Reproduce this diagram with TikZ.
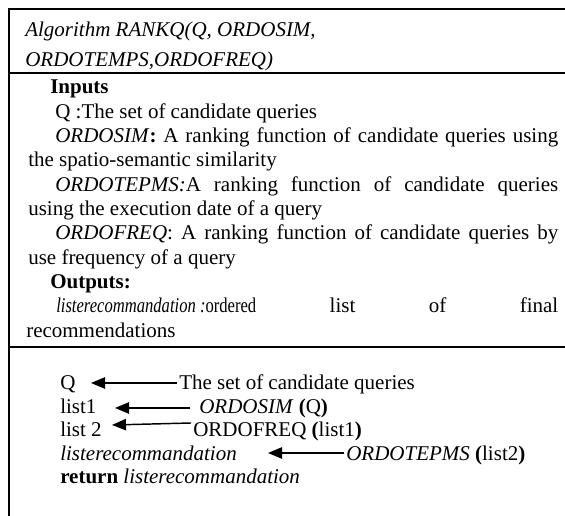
\documentclass[tikz,border=0pt]{standalone}
\usepackage{graphicx}
\usepackage{fontspec}
\setmainfont{Liberation Serif}
\usetikzlibrary{arrows.meta}
\begin{document}
\begin{tikzpicture}[x=0.75pt,y=-0.75pt,
  txt/.style={anchor=base west,inner sep=0pt,font=\fontsize{15.75}{18}\selectfont},
  rule/.style={line width=1.5pt},
  arr/.style={line width=1.1pt,-{Triangle[length=10.5pt,width=8.5pt]}}]
\useasboundingbox (0,0) rectangle (565,516);
% frame
\coordinate (tl) at (9,9);
\coordinate (tr) at (566,9);
\coordinate (bl) at (9,517);
\coordinate (m1l) at (9,73);
\coordinate (m1r) at (566,73);
\coordinate (m2l) at (9,347);
\coordinate (m2r) at (566,347);
\draw[rule] (tr) -- (tl) -- (bl);
\draw[rule] (m1l) -- (m1r);
\draw[rule] (m2l) -- (m2r);
% header
\node[txt] (h1) at (25,37) {\textit{Algorithm RANKQ(Q, ORDOSIM,}};
\node[txt] (h2) at (25,67) {\textit{ORDOTEMPS,ORDOFREQ)}};
% inputs / outputs
\node[txt] (in) at (50,94) {\textbf{Inputs}};
\node[txt] (i1) at (55,118.3) {Q :The set of candidate queries};
\node[txt] (i2) at (55,142.6) {\makebox[377.25pt][s]{\textit{ORDOSIM}\textbf{:} A ranking function of candidate queries using}};
\node[txt] (i2b) at (28,167) {the spatio-semantic similarity};
\node[txt] (i3) at (55,191.3) {\makebox[377.25pt][s]{\textit{ORDOTEPMS:}A ranking function of candidate queries}};
\node[txt] (i3b) at (28,215.6) {using the execution date of a query};
\node[txt] (i4) at (55,240) {\makebox[377.25pt][s]{\textit{ORDOFREQ}: A ranking function of candidate queries by}};
\node[txt] (i4b) at (28,264.3) {use frequency of a query};
\node[txt] (out) at (50,288.6) {\textbf{Outputs:}};
\node[txt] (o1) at (56,313) {\makebox[376.5pt][s]{\resizebox{150pt}{\height}{\textit{listerecommandation :}ordered} list of final}};
\node[txt] (o1b) at (26,337.3) {recommendations};
% algorithm body
\node[txt] (q) at (60,390) {Q};
\node[txt] (qt) at (179,390) {The set of candidate queries};
\node[txt] (l1) at (60,413.5) {list1};
\node[txt] (l1t) at (199,413.5) {\textit{ORDOSIM} \textbf{(}Q\textbf{)}};
\node[txt] (l2) at (60,437) {list 2};
\node[txt] (l2t) at (193,437) {ORDOFREQ \textbf{(}list1\textbf{)}};
\node[txt] (l3) at (60,460.5) {\textit{listerecommandation}};
\node[txt] (l3t) at (346,460.5) {\textit{ORDOTEPMS} \textbf{(}list2\textbf{)}};
\node[txt] (ret) at (60,484) {\textbf{return} \textit{listerecommandation}};
% arrows
\coordinate (a1s) at (177,383);
\coordinate (a1e) at (91,383);
\coordinate (a2s) at (190,408);
\coordinate (a2e) at (115,408);
\coordinate (a3s) at (191,423);
\coordinate (a3e) at (112,425);
\coordinate (a4s) at (344,453);
\coordinate (a4e) at (268,453);
\draw[arr] (a1s) -- (a1e);
\draw[arr] (a2s) -- (a2e);
\draw[arr] (a3s) -- (a3e);
\draw[arr] (a4s) -- (a4e);
\end{tikzpicture}
\end{document}
